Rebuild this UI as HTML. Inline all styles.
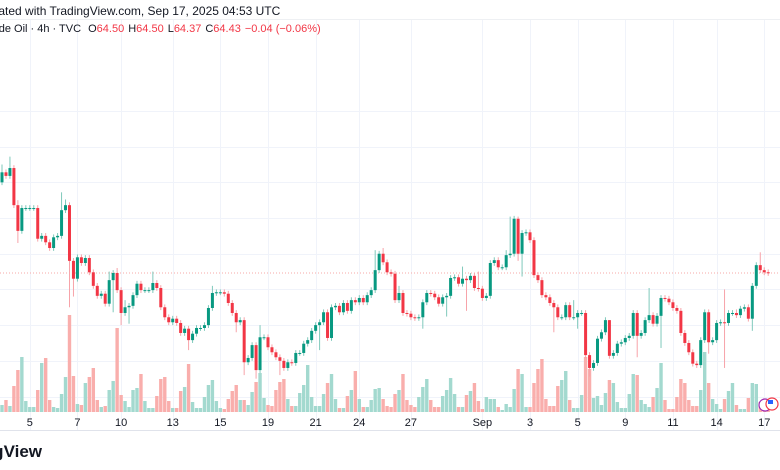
<!DOCTYPE html>
<html><head><meta charset="utf-8"><style>
html,body{margin:0;padding:0;background:#fff;width:780px;height:470px;overflow:hidden;font-family:"Liberation Sans",sans-serif}
svg{display:block}
</style></head><body>
<svg id="chart" width="780" height="470" xmlns="http://www.w3.org/2000/svg">
<text x="-21" y="15" font-size="12" fill="#131722" font-family="Liberation Sans, sans-serif">Created with TradingView.com, Sep 17, 2025 04:53 UTC</text>
<line x1="0" y1="19.5" x2="780" y2="19.5" stroke="#eef0f3"/>
<g id="grid"></g>
<g id="vol"></g>
<line id="lastline" x1="0" x2="780" stroke="#f7a9a7" stroke-dasharray="1,2"/>
<g id="candles"></g>
<text x="-19" y="32" font-size="11" font-family="Liberation Sans, sans-serif" fill="#131722">Crude Oil · 4h · TVC <tspan dx="4">O</tspan><tspan fill="#f23645">64.50</tspan><tspan dx="4">H</tspan><tspan fill="#f23645">64.50</tspan><tspan dx="4">L</tspan><tspan fill="#f23645">64.37</tspan><tspan dx="4">C</tspan><tspan fill="#f23645">64.43</tspan><tspan dx="4" fill="#f23645">−0.04 (−0.06%)</tspan></text>
<line x1="0" y1="430.5" x2="780" y2="430.5" stroke="#e0e3eb"/>
<g id="xaxis"></g>
<text x="42" y="457" text-anchor="end" font-size="17" font-weight="bold" fill="#131722" font-family="Liberation Sans, sans-serif">TradingView</text>
<circle cx="765" cy="405" r="6" fill="#fff" stroke="#9c27b0" stroke-width="1.2"/>
<circle cx="772" cy="404" r="6" fill="#fff" stroke="#f23645" stroke-width="1.2"/>
<rect x="768" y="400" width="5" height="4" fill="#2962ff"/>
</svg>
<script>
const closes = [65.84,65.79,65.90,65.38,65.02,65.34,65.34,65.34,65.34,64.91,64.95,64.86,64.78,64.93,64.95,65.31,65.38,64.60,64.35,64.65,64.57,64.64,64.44,64.25,64.11,64.14,64.00,64.33,64.43,64.19,63.87,63.95,63.97,64.12,64.28,64.19,64.19,64.19,64.29,64.22,63.95,63.81,63.74,63.79,63.73,63.59,63.65,63.49,63.58,63.66,63.66,63.70,63.94,64.15,64.16,64.16,64.14,64.01,63.87,63.74,63.77,63.18,63.24,63.42,63.07,63.53,
63.53,63.39,63.32,63.25,63.20,63.10,63.18,63.17,63.31,63.31,63.44,63.49,63.62,63.70,63.74,63.88,63.52,63.95,63.97,63.88,64.01,63.90,64.05,64.02,64.08,64.02,64.12,64.19,64.47,64.70,64.58,64.44,64.42,
64.05,64.15,63.87,63.86,63.81,63.80,63.81,64.02,64.15,64.14,64.09,64.00,64.09,64.11,64.36,64.37,64.28,64.35,64.33,64.39,64.22,64.21,64.08,64.11,64.57,64.61,64.51,64.51,64.68,64.70,65.19,64.70,64.99,
65.00,64.89,64.40,64.33,64.12,64.09,64.01,63.95,63.81,63.81,63.98,63.81,63.81,63.87,63.87,63.28,63.10,63.17,63.51,63.60,63.77,63.27,63.31,63.44,63.46,63.52,63.55,63.87,63.55,63.59,63.77,63.84,63.72,63.83,64.08,64.07,64.02,63.94,63.90,63.59,63.45,63.32,63.16,63.14,63.49,63.88,63.46,63.49,63.73,63.74,63.73,63.87,63.87,63.84,63.93,63.95,63.79,64.25,64.54,64.47,64.44,64.43];
const firstOpen = 65.70;
const volumes = [7,12,6,26,42,55,11,5,5,22,49,54,12,5,4,18,35,97,36,8,7,29,35,44,12,5,6,22,31,84,17,11,5,22,24,38,11,4,4,16,33,35,11,4,4,21,25,48,10,4,4,15,27,32,11,4,3,13,21,27,12,12,7,20,30,39,
14,7,6,22,30,33,13,6,6,19,27,47,15,6,6,18,29,38,13,4,4,16,22,41,13,5,5,12,23,24,13,6,5,
18,22,38,12,7,5,15,25,33,12,5,5,16,22,34,18,5,5,17,21,29,11,3,15,13,13,5,2,8,5,23,43,38,
5,5,29,43,53,13,6,6,26,32,41,12,4,4,17,55,43,14,16,7,19,32,29,10,4,4,18,38,37,12,8,5,15,24,49,12,3,3,15,33,29,12,6,6,22,60,29,13,8,3,13,21,29,7,3,3,14,29,28,10,7,5];
const wickHigh = [[0,65.95],[2,66.06],[4,65.45],[15,65.56],[16,65.46],[27,64.45],[29,64.50],[31,64.05],[38,64.45],[53,64.25],[65,63.70],[94,64.75],[96,64.78],[100,64.25],[116,64.52],[120,64.45],[127,64.75],[128,65.22],[130,65.22],[144,64.05],[153,63.45],[163,64.22],[182,64.20],[185,63.92],[191,64.72]];
const wickLow = [[4,64.85],[17,63.95],[18,64.10],[28,63.88],[30,63.70],[32,63.72],[47,63.35],[59,63.60],[61,63.00],[64,62.95],[70,63.00],[80,63.35],[106,63.65],[112,63.82],[117,63.90],[130,64.60],[131,64.38],[139,63.60],[145,63.65],[148,62.98],[160,63.25],[166,63.38],[178,63.30],[182,63.10],[189,63.62]];
const tickLabels = ["5","7","10","13","15","19","21","24","27","Sep","3","5","9","11","14","17"];
const tickIndex = [7,19,30,43,55,67,79,90,103,121,133,145,157,169,180,192];
const priceGridLevels = [66.70,66.20,65.70,65.20,64.70,64.20,63.70,63.20,62.70,62.20];

const NS="http://www.w3.org/2000/svg";
const step=3.97, x0=2;
function xPos(i){return x0+i*step;}
function yPrice(p){return 273-(p-64.43)*71.4;}
function yVol(v){return 412-v;}
function mk(tag,attrs,parent){const e=document.createElementNS(NS,tag);for(const k in attrs)e.setAttribute(k,attrs[k]);parent.appendChild(e);return e;}

const grid=document.getElementById('grid');
priceGridLevels.forEach(p=>{
  const y=Math.round(yPrice(p))+0.5;
  if(y<20||y>430) return;
  const l=mk('line',{x1:0,x2:780,y1:y,y2:y,stroke:'#f0f3fa'},grid);
  
  
});
const xaxis=document.getElementById('xaxis');
tickIndex.forEach((ti,k)=>{
  const x=Math.round(xPos(ti))+0.5;
  const l=mk('line',{x1:x,x2:x,y1:20,y2:430,stroke:'#f0f3fa'},grid);
  
  
  const t=mk('text',{x:xPos(ti),y:426,'text-anchor':'middle','font-size':'11',fill:'#131722','font-family':'Liberation Sans, sans-serif'},xaxis);
  t.textContent=tickLabels[k];
  
  
});
document.getElementById('lastline').setAttribute('y1',yPrice(closes[closes.length-1]));
document.getElementById('lastline').setAttribute('y2',yPrice(closes[closes.length-1]));

const hiMap={},loMap={};
wickHigh.forEach(([i,p])=>hiMap[i]=p);
wickLow.forEach(([i,p])=>loMap[i]=p);
const cg=document.getElementById('candles'), vg=document.getElementById('vol');
closes.forEach((c,i)=>{
  const o=i===0?firstOpen:closes[i-1];
  const up=c>=o;
  const col=up?'#089981':'#f23645';
  const vcol=up?'#a3d9cf':'#f9aeac';
  const x=xPos(i);
  const hi=Math.max(hiMap[i]!==undefined?hiMap[i]:Math.max(o,c)+0.04,Math.max(o,c));
  const lo=Math.min(loMap[i]!==undefined?loMap[i]:Math.min(o,c)-0.04,Math.min(o,c));
  const v=mk('rect',{x:x-1.7,y:yVol(volumes[i]),width:3.4,height:volumes[i],fill:vcol},vg);
  
  
  const w=mk('line',{x1:x,x2:x,y1:yPrice(hi),y2:yPrice(lo),stroke:up?'#7fc9bb':'#f7a3a9','stroke-width':1},cg);
  
  
  const top=yPrice(Math.max(o,c)), bot=yPrice(Math.min(o,c));
  const b=mk('rect',{x:x-1.5,y:top,width:3,height:Math.max(1,bot-top),fill:col},cg);
  
  
});
</script>
</body></html>
